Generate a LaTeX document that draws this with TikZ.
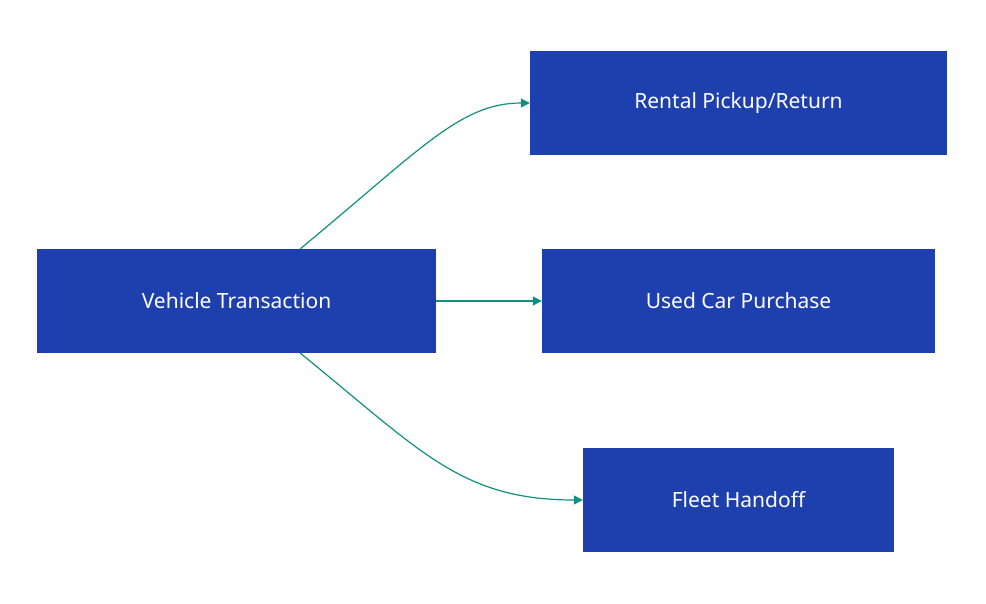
\documentclass[tikz,border=0pt]{standalone}
\usepackage{fontspec}
\setmainfont{Noto Sans}
\usetikzlibrary{arrows.meta}
\definecolor{boxc}{HTML}{1E40AF}
\definecolor{arr}{HTML}{11907F}
\begin{document}
\begin{tikzpicture}[x=1pt,y=-1pt,
  box/.style={fill=boxc,draw=none,text=white,font=\fontsize{21}{25}\selectfont,anchor=center,inner sep=0pt},
  con/.style={draw=arr,line width=1.2pt,-{Triangle[length=9pt,width=9pt]}}]
\useasboundingbox (0,0) rectangle (986,604);
\node[box,minimum width=399pt,minimum height=104pt] (vt) at (236.5,301) {Vehicle Transaction};
\node[box,minimum width=417pt,minimum height=104pt] (rp) at (738.5,103) {Rental Pickup/Return};
\node[box,minimum width=393pt,minimum height=104pt] (uc) at (738.5,301) {Used Car Purchase};
\node[box,minimum width=311pt,minimum height=104pt] (fh) at (738.5,500) {Fleet Handoff};
\coordinate (a1) at (300,249);
\coordinate (a2) at (300,353);
\draw[con] (a1) .. controls (420,150) and (460,103) .. (rp.west);
\draw[con] (vt.east) -- (uc.west);
\draw[con] (a2) .. controls (420,450) and (460,500) .. (fh.west);
\end{tikzpicture}
\end{document}
